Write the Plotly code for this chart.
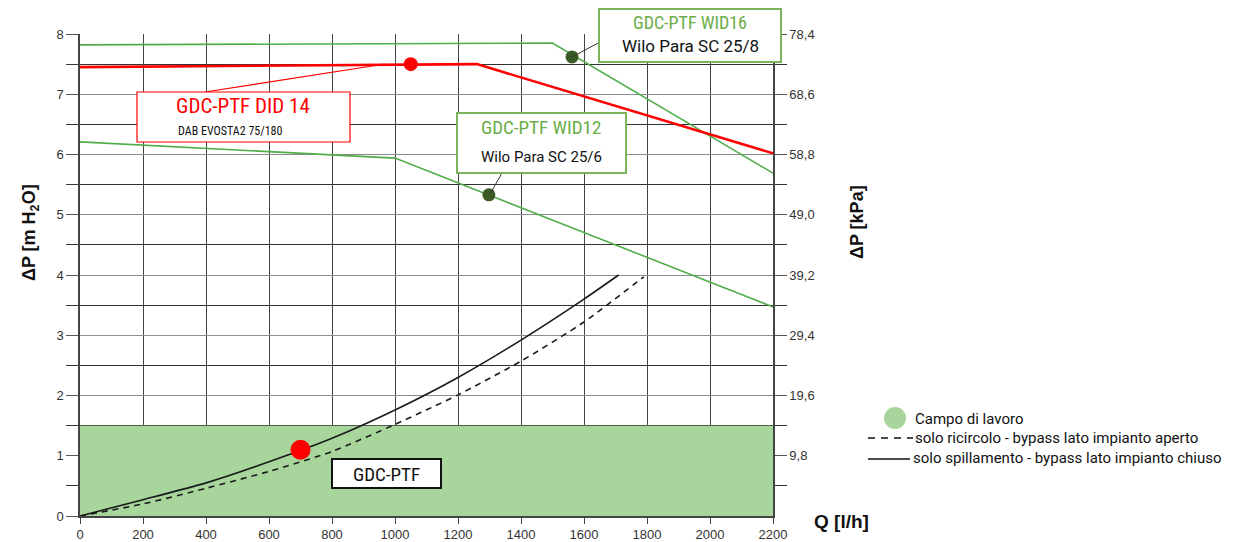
import plotly.graph_objects as go

# ---------------- data ----------------
q_did14 = [0, 1260, 2200]
dp_did14 = [7.45, 7.5, 6.02]

q_wid16 = [0, 1500, 2200]
dp_wid16 = [7.82, 7.85, 5.69]

q_wid12 = [0, 1000, 2200]
dp_wid12 = [6.21, 5.94, 3.47]

q_closed = [0, 200, 400, 600, 800, 1000, 1200, 1400, 1600, 1710]
dp_closed = [0, 0.27, 0.55, 0.90, 1.29, 1.76, 2.30, 2.92, 3.60, 4.0]

q_open = [0, 200, 400, 600, 800, 1000, 1200, 1400, 1600, 1790]
dp_open = [0, 0.20, 0.46, 0.74, 1.07, 1.52, 2.01, 2.57, 3.22, 3.97]

work_field_max = 1.5
q_max = 2200

pt_did14 = (1050, 7.5)
pt_wid16 = (1562, 7.62)
pt_wid12 = (1298, 5.33)
pt_gdc = (700, 1.1)

x_ticks = list(range(0, 2201, 200))
y_major = list(range(0, 9))
y_minor = [i + 0.5 for i in range(0, 8)]
kpa_labels = ["9,8", "19,6", "29,4", "39,2", "49,0", "58,8", "68,6", "78,4"]

# ---------------- layout helpers (page pixel coords) ----------------
OFF = 8  # page body margin
L, R, T, B = 80, 773, 34, 516
W, H = 1242, 534


def px(x):
    return (x - L) / (R - L)


def py(y):
    return (B - y) / (B - T)


COND = "Roboto Condensed, Liberation Sans Narrow, DejaVu Sans Condensed, Roboto, sans-serif"
RED = "#ff0000"
GREEN_LINE = "#4fae4a"
GREEN_TXT = "#6aad47"
GREEN_BOX = "#7ab55c"
DARK_GREEN = "#3b5a26"
FIELD = "#a8d59c"

fig = go.Figure()

# work field
fig.add_trace(go.Scatter(x=[0, q_max, q_max, 0, 0],
                         y=[0, 0, work_field_max, work_field_max, 0],
                         fill="toself", fillcolor=FIELD, line=dict(width=0),
                         mode="lines", hoverinfo="skip", showlegend=False))

# pump curves
fig.add_trace(go.Scatter(x=q_wid16, y=dp_wid16, mode="lines",
                         line=dict(color=GREEN_LINE, width=1.6), showlegend=False))
fig.add_trace(go.Scatter(x=q_wid12, y=dp_wid12, mode="lines",
                         line=dict(color=GREEN_LINE, width=1.6), showlegend=False))
fig.add_trace(go.Scatter(x=q_did14, y=dp_did14, mode="lines",
                         line=dict(color=RED, width=2.6), showlegend=False))

# system curves
fig.add_trace(go.Scatter(x=q_closed, y=dp_closed, mode="lines",
                         line=dict(color="#1a1a1a", width=1.6, shape="spline", smoothing=0.6),
                         showlegend=False))
fig.add_trace(go.Scatter(x=q_open, y=dp_open, mode="lines",
                         line=dict(color="#1a1a1a", width=1.6, dash="6px,5px", shape="spline", smoothing=0.6),
                         showlegend=False))

# markers
fig.add_trace(go.Scatter(x=[pt_did14[0]], y=[pt_did14[1]], mode="markers",
                         marker=dict(color=RED, size=14), showlegend=False))
fig.add_trace(go.Scatter(x=[pt_wid16[0], pt_wid12[0]], y=[pt_wid16[1], pt_wid12[1]], mode="markers",
                         marker=dict(color=DARK_GREEN, size=13), showlegend=False))
fig.add_trace(go.Scatter(x=[pt_gdc[0]], y=[pt_gdc[1]], mode="markers",
                         marker=dict(color=RED, size=20), showlegend=False))

# right axis dummy
fig.add_trace(go.Scatter(x=[0], y=[0], yaxis="y2", mode="markers",
                         marker=dict(opacity=0), hoverinfo="skip", showlegend=False))

shapes = []
annos = []

# connectors
shapes.append(dict(type="line", xref="paper", yref="paper", x0=px(205), y0=py(92), x1=px(385), y1=py(64),
                   line=dict(color=RED, width=1.2)))
shapes.append(dict(type="line", xref="paper", yref="paper", x0=px(572), y0=py(57), x1=px(600), y1=py(42),
                   line=dict(color="#333333", width=1)))
shapes.append(dict(type="line", xref="paper", yref="paper", x0=px(502), y0=py(173), x1=px(490), y1=py(194),
                   line=dict(color="#333333", width=1)))


def box(x0, y0, x1, y1, color, width=1.2):
    shapes.append(dict(type="rect", xref="paper", yref="paper", x0=px(x0), y0=py(y0), x1=px(x1), y1=py(y1),
                       line=dict(color=color, width=width), fillcolor="white", layer="above"))


def text(x, y, s, size, color, family="Roboto, sans-serif", xanchor="center", bold=False):
    if bold:
        s = "<b>" + s + "</b>"
    annos.append(dict(xref="paper", yref="paper", x=px(x), y=py(y), text=s, showarrow=False,
                      font=dict(size=size, color=color, family=family), xanchor=xanchor, yanchor="middle"))


box(137, 92, 350, 142, RED)
text(243, 106, "GDC-PTF DID 14", 21, RED, COND)
text(176, 131, "DAB EVOSTA2 75/180", 12, "#111111", COND, xanchor="left")

box(599, 9, 781, 62, GREEN_BOX, 2)
text(690, 22, "GDC-PTF WID16", 18, GREEN_TXT, COND)
text(690, 46, "Wilo Para SC 25/8", 17, "#111111")

box(457, 113, 626, 173, GREEN_BOX, 2)
text(541, 128, "GDC-PTF WID12", 19, GREEN_TXT, COND)
text(541, 157, "Wilo Para SC 25/6", 15, "#111111")

box(332, 459, 441, 488, "#111111", 2)
text(386, 474, "GDC-PTF", 19, "#111111", COND)

# legend
shapes.append(dict(type="circle", xref="paper", yref="paper", x0=px(884), y0=py(407), x1=px(906), y1=py(429),
                   line=dict(width=0), fillcolor=FIELD))
text(913, 419, "Campo di lavoro", 15, "#111111", xanchor="left")
shapes.append(dict(type="line", xref="paper", yref="paper", x0=px(868), y0=py(438), x1=px(913), y1=py(438),
                   line=dict(color="#111111", width=1.6, dash="7px,6px")))
text(913, 438, "solo ricircolo - bypass lato impianto aperto", 15, "#111111", xanchor="left")
shapes.append(dict(type="line", xref="paper", yref="paper", x0=px(868), y0=py(459), x1=px(910), y1=py(459),
                   line=dict(color="#111111", width=1.6)))
text(911, 458, "solo spillamento - bypass lato impianto chiuso", 15, "#111111", xanchor="left")

# axis titles
annos.append(dict(xref="paper", yref="paper", x=px(30), y=py(233), text="<b>ΔP [m H<sub>2</sub>O]</b>",
                  showarrow=False, textangle=-90, font=dict(size=18, color="#111111", family="Liberation Sans, Arial"),
                  xanchor="center", yanchor="middle"))
annos.append(dict(xref="paper", yref="paper", x=px(857), y=py(222), text="<b>ΔP [kPa]</b>",
                  showarrow=False, textangle=-90, font=dict(size=18, color="#111111", family="Liberation Sans, Arial"),
                  xanchor="center", yanchor="middle"))
annos.append(dict(xref="paper", yref="paper", x=px(812), y=py(521), text="<b>Q [l/h]</b>",
                  showarrow=False, font=dict(size=19, color="#111111", family="Liberation Sans, Arial"),
                  xanchor="left", yanchor="middle"))
# title, cut off at the top edge as in the reference
annos.append(dict(xref="paper", yref="paper", x=px(6), y=py(-4), text="<b>2.5. PERDITE DI CARICO</b>",
                  showarrow=False, font=dict(size=24, color="#111111", family="Liberation Sans, Arial"),
                  xanchor="left", yanchor="middle"))

tick_font = dict(size=13, color="#333333", family="Liberation Sans, Arial")
minor_cfg = dict(tickvals=y_minor, ticks="outside", ticklen=12, tickcolor="#333333",
                 showgrid=True, gridcolor="#333333", gridwidth=1)

fig.update_layout(
    width=W, height=H,
    margin=dict(l=L - OFF, r=(W + OFF) - R, t=T - OFF, b=(H + OFF) - B, autoexpand=False),
    paper_bgcolor="white", plot_bgcolor="white",
    showlegend=False,
    shapes=shapes, annotations=annos,
    xaxis=dict(range=[0, q_max], tickvals=x_ticks, ticktext=[str(v) for v in x_ticks],
               automargin=False,
               showgrid=True, gridcolor="#444444", gridwidth=1, zeroline=False,
               showline=True, linecolor="#444444", linewidth=1.5,
               ticks="outside", ticklen=6, tickcolor="#444444",
               tickfont=tick_font),
    yaxis=dict(range=[0, 8], tickvals=y_major, ticktext=[str(v) for v in y_major], automargin=False,
               showgrid=True, gridcolor="#8c8c8c", gridwidth=1, zeroline=False,
               showline=True, linecolor="#444444", linewidth=1.5,
               ticks="outside", ticklen=12, tickcolor="#555555",
               tickfont=tick_font, minor=minor_cfg),
    yaxis2=dict(range=[0, 8], overlaying="y", side="right", tickvals=y_major[1:], ticktext=kpa_labels,
                automargin=False,
                showgrid=False, zeroline=False, showline=True, linecolor="#444444", linewidth=1.5,
                ticks="outside", ticklen=12, tickcolor="#555555",
                tickfont=tick_font,
                minor=dict(tickvals=y_minor, ticks="outside", ticklen=12, tickcolor="#333333", showgrid=False)),
)

fig.write_html("out.html")
